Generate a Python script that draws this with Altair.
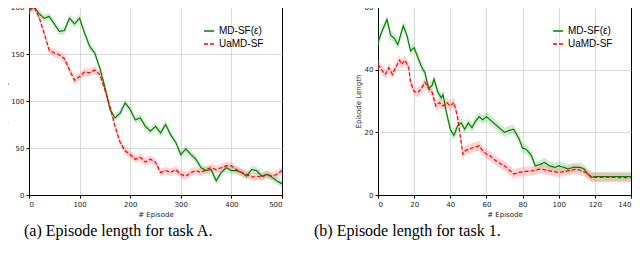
import altair as alt
import pandas as pd

# ---------------- data ----------------
series_names = ["MD-SF(ε)", "UaMD-SF"]

# Panel (a): task A
ep_a = list(range(0, 501, 10))
md_a = [196, 200, 193, 188, 190, 182, 174, 175, 188, 182, 188, 172, 158, 151, 135, 115, 91, 82, 87, 98,
        91, 80, 82, 73, 68, 73, 66, 75, 64, 56, 43, 49, 43, 38, 29, 26, 27, 15, 24, 29,
        26, 26, 24, 20, 27, 26, 20, 22, 19, 15, 12]
ua_a = [198, 200, 189, 172, 154, 151, 149, 145, 133, 122, 126, 131, 130, 133, 128, 112, 94, 73, 56, 47,
        43, 38, 40, 35, 38, 35, 24, 26, 24, 27, 22, 20, 24, 26, 24, 27, 29, 27, 29, 31,
        31, 27, 24, 22, 19, 20, 19, 22, 20, 22, 26]
spread_a = 4.0

# Panel (b): task 1
ep_b_md = [0, 2, 5, 7, 9, 11, 13, 14, 16, 18, 20, 22, 24, 26, 28, 30, 31, 33, 35, 36, 38, 40, 42, 44, 46,
           48, 50, 52, 54, 56, 58, 60, 62, 64, 66, 68, 70, 72, 75, 78, 80, 82, 85, 87, 90, 92, 95, 98,
           100, 103, 105, 108, 110, 112, 114, 116, 118, 120, 130, 140]
md_b = [48.6, 52, 56, 51, 50, 48, 52, 54, 51, 46, 47, 44, 41, 39, 34, 35, 37, 33, 31, 32, 26, 21, 19, 22, 23,
        21, 23, 21.5, 23.6, 25, 24, 25, 24, 23, 22, 21, 20, 20.5, 21, 18, 15, 14.6, 12.5, 9.3, 9.8, 10.4, 9.3, 8.8,
        9.3, 8.8, 8.3, 8.8, 8.8, 8.8, 8.3, 6.7, 5.6, 5.9, 5.9, 5.9]
ep_b_ua = [0, 2, 4, 6, 8, 10, 12, 13, 15, 17, 18, 20, 22, 24, 26, 28, 30, 32, 34, 36, 38, 40, 42, 44, 46,
           47, 48, 50, 52, 56, 58, 60, 62, 65, 68, 70, 72, 75, 78, 80, 85, 90, 95, 100, 105, 110, 115,
           118, 120, 130, 140]
ua_b = [41.7, 40, 38.5, 40.6, 38.5, 41, 43, 41.7, 43, 40.6, 36, 33, 32.7, 34, 36, 34, 32.7, 28.4, 29.5, 28.4,
        29.5, 28.4, 29.5, 25, 16.8, 13, 14, 14.6, 15, 15.7, 14, 13, 12.5, 11, 9.9, 9.3, 8.3, 6.7, 7.2, 7.4,
        7.7, 8.3, 7.7, 7.2, 7.7, 8.3, 7.2, 5.9, 5.6, 5.6, 5.5]
spread_b = 1.5

x_ticks_a = [0, 100, 200, 300, 400, 500]
y_ticks_a = [0, 25, 50, 75, 100, 125, 150, 175, 200]
x_ticks_b = [0, 20, 40, 60, 80, 100, 120, 140]
y_ticks_b = [0, 10, 20, 30, 40, 50, 60]

captions = ["(a)  Episode length for task A.", "(b)  Episode length for task 1."]

colors = ["#008000", "#ff0000"]
band_colors = ["#7fc97f", "#ff8080"]


def frame(eps, vals, name, spread):
    return pd.DataFrame({
        "ep": eps, "val": vals, "series": name,
        "lo": [v - spread for v in vals], "hi": [v + spread for v in vals],
    })


df_a = pd.concat([frame(ep_a, md_a, series_names[0], spread_a),
                  frame(ep_a, ua_a, series_names[1], spread_a)])
df_b = pd.concat([frame(ep_b_md, md_b, series_names[0], spread_b),
                  frame(ep_b_ua, ua_b, series_names[1], spread_b)])

W, H = 253, 188

AX = dict(labelFont="DejaVu Sans", titleFont="DejaVu Sans", labelFontSize=7, titleFontSize=7,
          titleFontWeight="normal", labelColor="#222", titleColor="#222",
          tickColor="black", tickSize=3, domain=True, domainColor="black",
          labelPadding=2, titlePadding=3, format="d")


def edge_grid(v):
    # grid line at the far edge drawn black, so it closes the frame
    return dict(
        gridColor={"condition": {"test": f"datum.value === {v}", "value": "black"}, "value": "#d0d0d0"},
        gridWidth={"condition": {"test": f"datum.value === {v}", "value": 1}, "value": 0.8},
    )


def panel(df, xdom, xt, ydom, yt, caption, dx):
    xsc = alt.Scale(domain=xdom, nice=False)
    ysc = alt.Scale(domain=ydom, nice=False)
    xs = alt.X("ep:Q", scale=xsc,
               axis=alt.Axis(values=xt, title="# Episode", **AX, **edge_grid(xdom[1])))
    ys = alt.Y("val:Q", scale=ysc,
               axis=alt.Axis(values=yt, title="Episode Length", **AX, **edge_grid(ydom[1])))
    band = alt.Chart(df).mark_area(opacity=0.35, clip=True).encode(
        x=xs,
        y=alt.Y("lo:Q", scale=ysc, title="Episode Length"),
        y2="hi:Q",
        fill=alt.Fill("series:N", scale=alt.Scale(domain=series_names, range=band_colors), legend=None),
    )
    leg = alt.Legend(title=None, orient="top-right")
    line = alt.Chart(df).mark_line(strokeWidth=1.2, clip=True).encode(
        x=xs, y=ys,
        color=alt.Color("series:N", scale=alt.Scale(domain=series_names, range=colors), legend=leg),
        strokeDash=alt.StrokeDash("series:N",
                                  scale=alt.Scale(domain=series_names, range=[[1, 0], [4, 2]]),
                                  legend=leg),
    )
    return alt.layer(band, line).properties(
        width=W, height=H,
        title=alt.TitleParams(caption, orient="bottom", anchor="start", frame="group", dx=dx,
                              font="Liberation Serif", fontSize=16, fontWeight="normal",
                              color="black", offset=6),
    )


left = panel(df_a, [0, 500], x_ticks_a, [0, 200], y_ticks_a, captions[0], -5)
right = panel(df_b, [0, 140], x_ticks_b, [0, 60], y_ticks_b, captions[1], -64)

chart = alt.hconcat(left, right, spacing=96, bounds="flush").resolve_legend(
    color="independent", strokeDash="independent"
).configure_view(
    stroke="black", strokeWidth=1
).configure_legend(
    fillColor="white", strokeColor="#cccccc", cornerRadius=3, padding=3,
    labelFont="DejaVu Sans", labelFontSize=7, symbolType="stroke", symbolSize=120,
    symbolStrokeWidth=1.2, rowPadding=2, offset=3,
).configure(padding={"left": -8, "top": -6, "right": 0, "bottom": 0})

chart.save("out.html", embed_options={"renderer": "svg", "actions": False})
